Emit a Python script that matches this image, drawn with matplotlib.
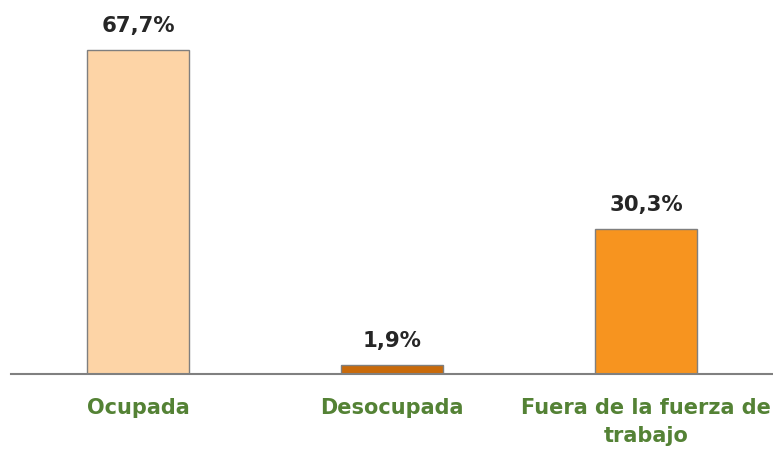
import matplotlib
matplotlib.use("Agg")
import matplotlib.pyplot as plt

categories = ["Ocupada", "Desocupada", "Fuera de la fuerza de\ntrabajo"]
values = [67.7, 1.9, 30.3]
value_labels = ["67,7%", "1,9%", "30,3%"]
colors = ["#FDD4A6", "#C96A0A", "#F7941F"]

fig = plt.figure(figsize=(7.73, 4.55), dpi=100)
ax = fig.add_axes([11/773, 81/455, 762/773, 335/455])
x = list(range(len(categories)))
ax.bar(x, values, width=0.398, color=colors, edgecolor="#7F7F7F", linewidth=1.0, zorder=2)
ax.set_xlim(-0.5, 2.5)
ax.set_ylim(0, 70)
for xi, v, lab in zip(x, values, value_labels):
    ax.annotate(lab, (xi, v), xytext=(0, 10), textcoords="offset points",
                ha="center", va="bottom", fontsize=15.3, fontweight="bold",
                color="#262626", family="DejaVu Sans", annotation_clip=False)
ax.set_xticks(x)
ax.set_xticklabels(categories, fontsize=15.0, fontweight="bold", color="#548235",
                   family="DejaVu Sans", linespacing=1.55)
ax.tick_params(axis="x", length=0, pad=17)
ax.set_yticks([])
for s in ["top", "right", "left"]:
    ax.spines[s].set_visible(False)
ax.spines["bottom"].set_color("#808080")
ax.spines["bottom"].set_linewidth(1.5)
ax.patch.set_alpha(0)
fig.savefig("out.png", dpi=100)
